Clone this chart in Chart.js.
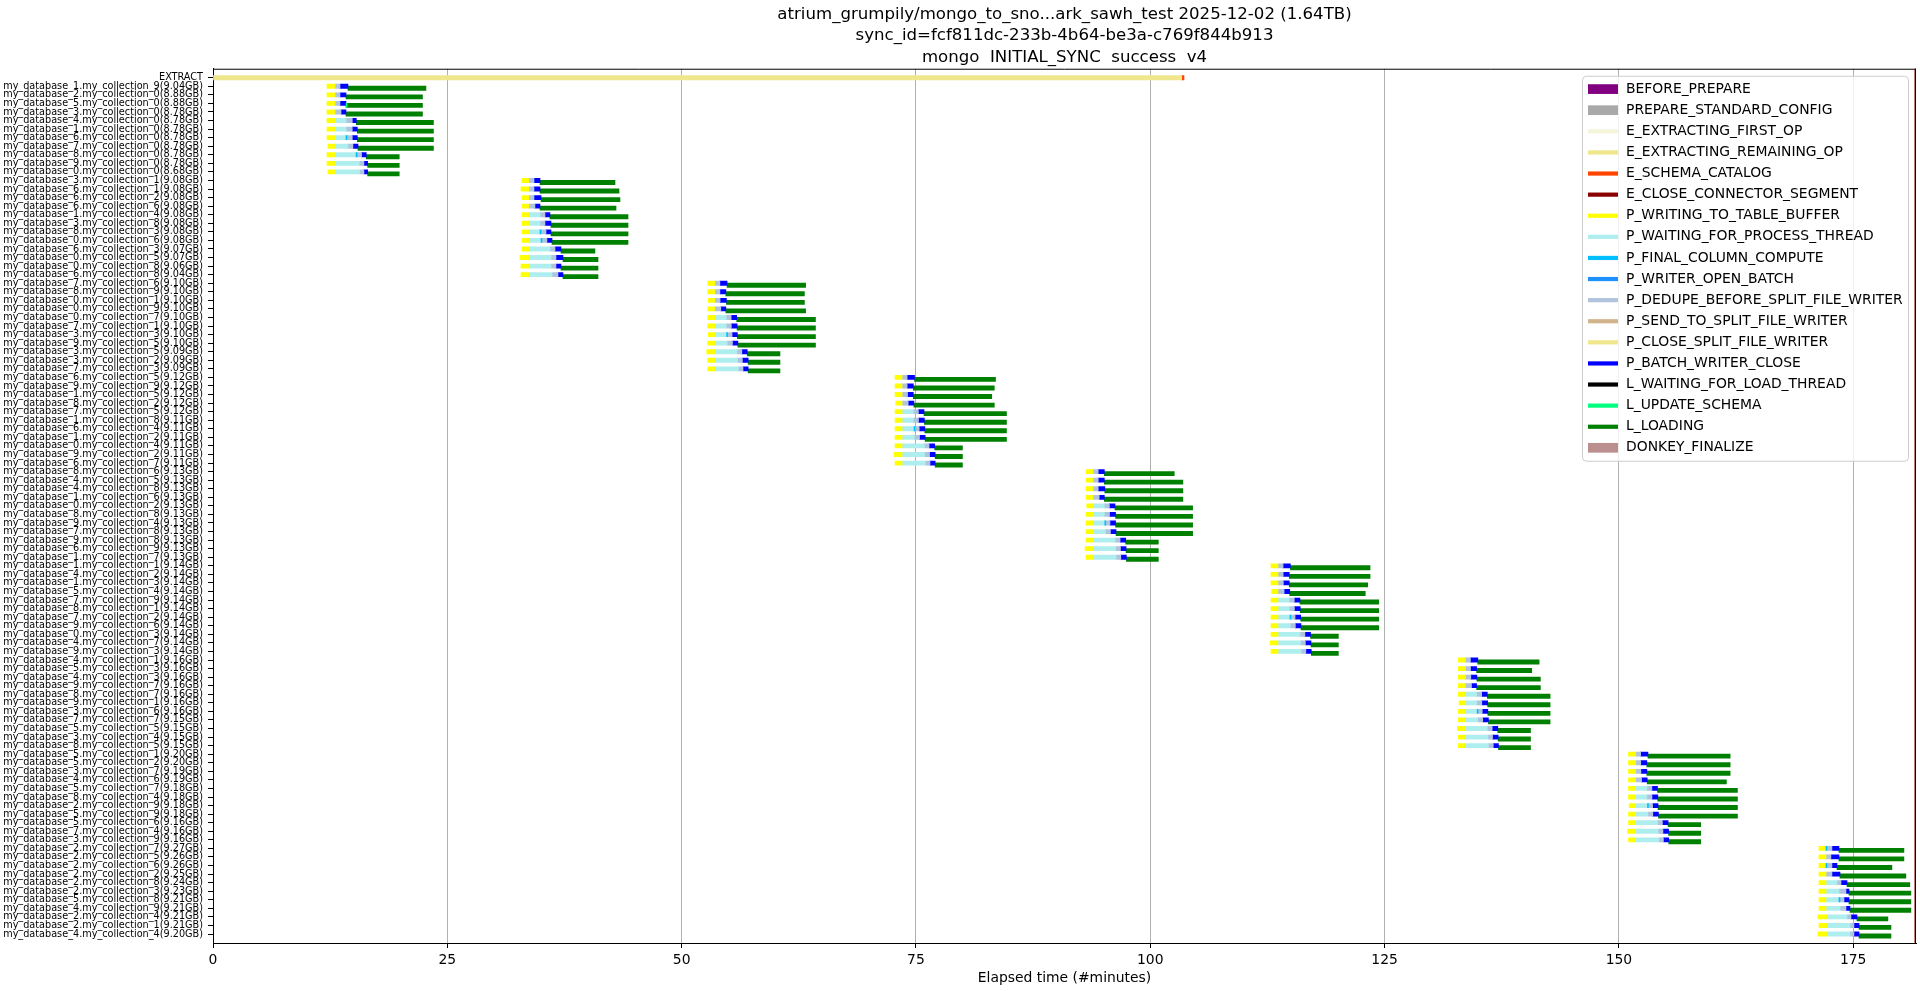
<!DOCTYPE html>
<html>
<head>
<meta charset="utf-8">
<script src="https://cdn.jsdelivr.net/npm/chart.js@4.4.1/dist/chart.umd.min.js"></script>
<style>
  html, body { margin: 0; padding: 0; background: #fff; }
  canvas { display: block; }
</style>
</head>
<body>
<canvas id="chart" width="1920" height="991" style="width:1920px;height:991px"></canvas>
<script>
// ---- data ----
const titleLines = [
  'atrium_grumpily/mongo_to_sno...ark_sawh_test 2025-12-02 (1.64TB)',
  'sync_id=fcf811dc-233b-4b64-be3a-c769f844b913',
  'mongo  INITIAL_SYNC  success  v4'
];

const rowLabels = [
  'EXTRACT',
  'my_database_1.my_collection_9(9.04GB)', 'my_database_2.my_collection_0(8.88GB)', 'my_database_5.my_collection_0(8.88GB)',
  'my_database_3.my_collection_0(8.78GB)', 'my_database_4.my_collection_0(8.78GB)', 'my_database_1.my_collection_0(8.78GB)',
  'my_database_6.my_collection_0(8.78GB)', 'my_database_7.my_collection_0(8.78GB)', 'my_database_8.my_collection_0(8.78GB)',
  'my_database_9.my_collection_0(8.78GB)', 'my_database_0.my_collection_0(8.68GB)',
  'my_database_3.my_collection_1(9.08GB)', 'my_database_6.my_collection_1(9.08GB)', 'my_database_6.my_collection_2(9.08GB)',
  'my_database_6.my_collection_6(9.08GB)', 'my_database_1.my_collection_4(9.08GB)', 'my_database_3.my_collection_8(9.08GB)',
  'my_database_8.my_collection_3(9.08GB)', 'my_database_0.my_collection_6(9.08GB)', 'my_database_6.my_collection_3(9.07GB)',
  'my_database_0.my_collection_5(9.07GB)', 'my_database_0.my_collection_8(9.06GB)', 'my_database_6.my_collection_8(9.04GB)',
  'my_database_7.my_collection_6(9.10GB)', 'my_database_8.my_collection_9(9.10GB)', 'my_database_0.my_collection_1(9.10GB)',
  'my_database_0.my_collection_9(9.10GB)', 'my_database_0.my_collection_7(9.10GB)', 'my_database_7.my_collection_1(9.10GB)',
  'my_database_3.my_collection_3(9.10GB)', 'my_database_9.my_collection_5(9.10GB)', 'my_database_3.my_collection_5(9.09GB)',
  'my_database_3.my_collection_2(9.09GB)', 'my_database_7.my_collection_3(9.09GB)',
  'my_database_6.my_collection_5(9.12GB)', 'my_database_9.my_collection_9(9.12GB)', 'my_database_1.my_collection_5(9.12GB)',
  'my_database_8.my_collection_2(9.12GB)', 'my_database_7.my_collection_5(9.12GB)', 'my_database_1.my_collection_8(9.11GB)',
  'my_database_6.my_collection_4(9.11GB)', 'my_database_1.my_collection_2(9.11GB)', 'my_database_0.my_collection_4(9.11GB)',
  'my_database_9.my_collection_2(9.11GB)', 'my_database_6.my_collection_7(9.11GB)',
  'my_database_8.my_collection_6(9.13GB)', 'my_database_4.my_collection_5(9.13GB)', 'my_database_4.my_collection_8(9.13GB)',
  'my_database_1.my_collection_6(9.13GB)', 'my_database_0.my_collection_2(9.13GB)', 'my_database_8.my_collection_8(9.13GB)',
  'my_database_9.my_collection_4(9.13GB)', 'my_database_7.my_collection_8(9.13GB)', 'my_database_9.my_collection_8(9.13GB)',
  'my_database_6.my_collection_9(9.13GB)', 'my_database_1.my_collection_7(9.13GB)',
  'my_database_1.my_collection_1(9.14GB)', 'my_database_4.my_collection_2(9.14GB)', 'my_database_1.my_collection_3(9.14GB)',
  'my_database_5.my_collection_4(9.14GB)', 'my_database_7.my_collection_9(9.14GB)', 'my_database_8.my_collection_1(9.14GB)',
  'my_database_7.my_collection_2(9.14GB)', 'my_database_9.my_collection_6(9.14GB)', 'my_database_0.my_collection_3(9.14GB)',
  'my_database_4.my_collection_7(9.14GB)', 'my_database_9.my_collection_3(9.14GB)',
  'my_database_4.my_collection_1(9.16GB)', 'my_database_5.my_collection_3(9.16GB)', 'my_database_4.my_collection_3(9.16GB)',
  'my_database_9.my_collection_7(9.16GB)', 'my_database_8.my_collection_7(9.16GB)', 'my_database_9.my_collection_1(9.16GB)',
  'my_database_3.my_collection_6(9.16GB)', 'my_database_7.my_collection_7(9.15GB)', 'my_database_5.my_collection_5(9.15GB)',
  'my_database_3.my_collection_4(9.15GB)', 'my_database_8.my_collection_5(9.15GB)',
  'my_database_5.my_collection_1(9.20GB)', 'my_database_5.my_collection_2(9.20GB)', 'my_database_3.my_collection_7(9.19GB)',
  'my_database_4.my_collection_6(9.19GB)', 'my_database_5.my_collection_7(9.18GB)', 'my_database_8.my_collection_4(9.18GB)',
  'my_database_2.my_collection_9(9.18GB)', 'my_database_5.my_collection_9(9.18GB)', 'my_database_5.my_collection_6(9.16GB)',
  'my_database_7.my_collection_4(9.16GB)', 'my_database_3.my_collection_9(9.16GB)',
  'my_database_2.my_collection_7(9.27GB)', 'my_database_2.my_collection_5(9.26GB)', 'my_database_2.my_collection_6(9.26GB)',
  'my_database_2.my_collection_2(9.25GB)', 'my_database_2.my_collection_8(9.24GB)', 'my_database_2.my_collection_3(9.23GB)',
  'my_database_5.my_collection_8(9.21GB)', 'my_database_4.my_collection_9(9.21GB)', 'my_database_2.my_collection_4(9.21GB)',
  'my_database_2.my_collection_1(9.21GB)', 'my_database_4.my_collection_4(9.20GB)'
];

// EXTRACT row (minutes)
const extractRemaining = [0, 103.35];
const extractSchema = [103.35, 103.6];

// per table row (rows 1..100), stage boundaries in minutes; one line per batch
const tStart = [
  12.16, 12.16, 12.16, 12.16, 12.16, 12.16, 12.16, 12.27, 12.16, 12.16, 12.27,
  32.97, 32.86, 32.97, 32.97, 32.97, 32.97, 32.97, 32.97, 32.97, 32.75, 32.86, 32.86,
  52.79, 52.79, 52.85, 52.79, 52.79, 52.79, 52.85, 52.79, 52.68, 52.79, 52.79,
  72.77, 72.77, 72.77, 72.85, 72.77, 72.77, 72.77, 72.77, 72.77, 72.66, 72.77,
  93.15, 93.15, 93.15, 93.15, 93.22, 93.15, 93.15, 93.15, 93.15, 93.05, 93.15,
  112.88, 112.88, 112.88, 112.95, 112.88, 112.88, 112.88, 112.88, 112.88, 112.78, 112.88,
  132.87, 132.87, 132.87, 132.87, 132.87, 132.95, 132.87, 132.87, 132.76, 132.87, 132.87,
  151.03, 151.03, 151.03, 151.03, 151.03, 151.03, 151.10, 151.03, 151.03, 150.93, 151.03,
  171.35, 171.35, 171.35, 171.35, 171.35, 171.35, 171.35, 171.35, 171.24, 171.35, 171.24
];
const tWrite = [
  13.02, 13.02, 13.02, 13.02, 13.02, 13.02, 13.02, 13.02, 13.02, 13.02, 13.02,
  33.71, 33.71, 33.71, 33.71, 33.71, 33.71, 33.71, 33.71, 33.71, 33.71, 33.71, 33.71,
  53.54, 53.54, 53.54, 53.54, 53.54, 53.54, 53.54, 53.54, 53.54, 53.54, 53.54,
  73.52, 73.52, 73.52, 73.52, 73.52, 73.52, 73.52, 73.52, 73.52, 73.52, 73.52,
  93.90, 93.90, 93.90, 93.90, 93.90, 93.90, 93.90, 93.90, 93.90, 93.90, 93.90,
  113.63, 113.63, 113.63, 113.63, 113.63, 113.63, 113.63, 113.63, 113.63, 113.63, 113.63,
  133.62, 133.62, 133.62, 133.62, 133.62, 133.62, 133.62, 133.62, 133.62, 133.62, 133.62,
  151.78, 151.78, 151.78, 151.78, 151.78, 151.78, 151.78, 151.78, 151.78, 151.78, 151.78,
  172.10, 172.10, 172.10, 172.10, 172.10, 172.10, 172.10, 172.10, 172.20, 172.20, 172.20
];
const tWait = [
  13.02, 13.02, 13.02, 13.02, 14.19, 14.19, 14.19, 14.40, 15.26, 15.60, 15.65,
  33.71, 33.71, 33.71, 33.71, 34.89, 34.89, 34.89, 35.00, 35.95, 36.06, 36.06, 36.17,
  53.54, 53.54, 53.54, 53.54, 54.75, 54.75, 54.80, 54.86, 55.90, 55.95, 56.05,
  73.52, 73.52, 73.52, 73.52, 74.72, 74.72, 74.80, 74.83, 75.90, 75.92, 76.00,
  93.90, 93.90, 93.90, 93.90, 95.10, 95.10, 95.15, 95.20, 96.25, 96.30, 96.35,
  113.63, 113.63, 113.63, 113.63, 114.83, 114.83, 114.90, 114.94, 115.98, 116.03, 116.10,
  133.62, 133.62, 133.62, 133.62, 134.82, 134.82, 134.88, 134.93, 135.95, 136.02, 136.08,
  151.78, 151.78, 151.78, 151.78, 152.98, 152.98, 153.05, 153.09, 154.12, 154.18, 154.25,
  172.10, 172.10, 172.10, 172.10, 173.27, 173.48, 173.48, 173.59, 174.34, 174.66, 174.66
];
const tDedupe = [
  13.55, 13.55, 13.55, 13.66, 14.86, 14.86, 14.86, 14.93, 15.85, 16.10, 16.10,
  34.25, 34.25, 34.25, 34.35, 35.42, 35.42, 35.53, 35.63, 36.49, 36.59, 36.59, 36.81,
  54.08, 54.08, 54.10, 54.18, 55.28, 55.30, 55.38, 55.42, 56.42, 56.48, 56.55,
  74.06, 74.06, 74.10, 74.17, 75.26, 75.27, 75.35, 75.38, 76.40, 76.45, 76.50,
  94.44, 94.45, 94.45, 94.55, 95.64, 95.65, 95.70, 95.75, 96.78, 96.82, 96.86,
  114.17, 114.18, 114.20, 114.28, 115.37, 115.38, 115.45, 115.48, 116.50, 116.55, 116.60,
  134.16, 134.17, 134.20, 134.27, 135.36, 135.37, 135.42, 135.47, 136.48, 136.52, 136.60,
  152.32, 152.33, 152.35, 152.42, 153.52, 153.53, 153.60, 153.62, 154.64, 154.70, 154.75,
  172.73, 172.62, 172.73, 172.73, 173.70, 174.23, 174.02, 174.23, 174.76, 175.08, 175.08
];
const tClose = [
  14.40, 14.19, 14.19, 14.19, 15.29, 15.40, 15.40, 15.47, 16.35, 16.50, 16.50,
  34.89, 34.89, 35.00, 34.89, 35.95, 36.06, 36.06, 36.17, 37.13, 37.34, 37.13, 37.34,
  54.85, 54.72, 54.78, 54.72, 55.88, 55.92, 55.95, 56.00, 57.00, 57.10, 57.10,
  74.85, 74.72, 74.72, 74.78, 75.86, 75.90, 75.95, 75.98, 77.00, 77.05, 77.05,
  95.10, 95.10, 95.15, 95.10, 96.24, 96.30, 96.30, 96.35, 97.38, 97.42, 97.45,
  114.95, 114.83, 114.83, 114.88, 115.97, 116.00, 116.05, 116.08, 117.10, 117.15, 117.18,
  134.95, 134.82, 134.85, 134.82, 135.96, 136.00, 136.02, 136.08, 137.08, 137.12, 137.15,
  153.10, 152.98, 152.98, 153.02, 154.12, 154.15, 154.18, 154.22, 155.25, 155.30, 155.32,
  173.48, 173.48, 173.27, 173.59, 174.34, 174.55, 174.55, 174.66, 175.40, 175.62, 175.62
];
const tLoad = [
  22.72, 22.35, 22.35, 22.35, 23.52, 23.52, 23.52, 23.52, 19.87, 19.87, 19.87,
  42.89, 43.32, 43.42, 43.00, 44.28, 44.28, 44.28, 44.28, 40.75, 41.08, 41.08, 41.08,
  63.23, 63.10, 63.10, 63.23, 64.28, 64.28, 64.28, 64.28, 60.49, 60.49, 60.49,
  83.49, 83.36, 83.09, 83.36, 84.66, 84.66, 84.66, 84.66, 79.96, 79.96, 79.96,
  102.56, 103.48, 103.48, 103.48, 104.52, 104.52, 104.52, 104.52, 100.86, 100.86, 100.86,
  123.45, 123.45, 123.20, 122.94, 124.38, 124.38, 124.38, 124.38, 120.07, 120.07, 120.07,
  141.49, 140.70, 141.62, 141.62, 142.66, 142.66, 142.66, 142.66, 140.57, 140.57, 140.57,
  161.87, 161.87, 161.87, 161.47, 162.65, 162.65, 162.65, 162.65, 158.73, 158.73, 158.73,
  180.41, 180.41, 179.13, 180.62, 181.04, 181.15, 181.15, 181.15, 178.70, 179.03, 179.03
];

// short stages seen only on a few rows: [row, from, to]
const finalCompute = [
  [7, 14.19, 14.30], [9, 15.26, 15.37], [18, 34.89, 35.00], [19, 35.00, 35.10],
  [30, 54.80, 54.90], [41, 74.80, 74.90], [52, 95.15, 95.25], [63, 114.90, 115.00],
  [74, 134.88, 134.98], [85, 153.05, 153.15], [90, 172.10, 172.20], [92, 172.10, 172.20],
  [96, 173.48, 173.59]
];
const updateSchema = [[3, 14.19, 14.30]];

const syncEnd = 181.62;
const xMax = 181.7;
const xTicks = [0, 25, 50, 75, 100, 125, 150, 175];

const stageNames = [
  'BEFORE_PREPARE', 'PREPARE_STANDARD_CONFIG', 'E_EXTRACTING_FIRST_OP', 'E_EXTRACTING_REMAINING_OP',
  'E_SCHEMA_CATALOG', 'E_CLOSE_CONNECTOR_SEGMENT', 'P_WRITING_TO_TABLE_BUFFER', 'P_WAITING_FOR_PROCESS_THREAD',
  'P_FINAL_COLUMN_COMPUTE', 'P_WRITER_OPEN_BATCH', 'P_DEDUPE_BEFORE_SPLIT_FILE_WRITER', 'P_SEND_TO_SPLIT_FILE_WRITER',
  'P_CLOSE_SPLIT_FILE_WRITER', 'P_BATCH_WRITER_CLOSE', 'L_WAITING_FOR_LOAD_THREAD', 'L_UPDATE_SCHEMA',
  'L_LOADING', 'DONKEY_FINALIZE'
];
const stageColors = [
  '#800080', '#a9a9a9', '#f5f5dc', '#f0e68c',
  '#ff4500', '#8b0000', '#ffff00', '#afeeee',
  '#00bfff', '#1e90ff', '#b0c4de', '#d2b48c',
  '#f0e68c', '#0000ff', '#000000', '#00ff7f',
  '#008000', '#bc8f8f'
];
const stagePatch = ['BEFORE_PREPARE', 'PREPARE_STANDARD_CONFIG', 'DONKEY_FINALIZE'];

// ---- build bars ----
const LOAD_SHIFT = 0.23; // load stages sit a little lower in their row

function span(from, to, dy) {
  const out = [];
  for (let i = 0; i < from.length; i++) {
    if (to[i] > from[i]) out.push({ x: [from[i], to[i]], y: i + 1 + dy });
  }
  return out;
}

const stageData = {
  E_EXTRACTING_REMAINING_OP: [{ x: extractRemaining, y: 0 }],
  E_SCHEMA_CATALOG: [{ x: extractSchema, y: 0 }],
  P_WRITING_TO_TABLE_BUFFER: span(tStart, tWrite, 0),
  P_WAITING_FOR_PROCESS_THREAD: span(tWrite, tWait, 0),
  P_FINAL_COLUMN_COMPUTE: finalCompute.map(([r, a, b]) => ({ x: [a, b], y: r })),
  P_DEDUPE_BEFORE_SPLIT_FILE_WRITER: span(tWait, tDedupe, 0),
  P_BATCH_WRITER_CLOSE: span(tDedupe, tClose, 0),
  L_UPDATE_SCHEMA: updateSchema.map(([r, a, b]) => ({ x: [a, b], y: r + LOAD_SHIFT })),
  L_LOADING: span(tClose, tLoad, LOAD_SHIFT)
};

const datasets = stageNames.map((name, k) => ({
  label: name,
  data: stageData[name] || [],
  backgroundColor: stageColors[k],
  borderWidth: 0,
  barThickness: 4.2,
  grouped: false,
  order: (name === 'P_FINAL_COLUMN_COMPUTE' || name === 'L_UPDATE_SCHEMA') ? 0 : 1
}));

// frame (top/right spines), end marker and the boxed legend
const framePlugin = {
  id: 'frame',
  afterDraw(chart) {
    const { ctx, chartArea: a, scales } = chart;
    ctx.save();
    ctx.strokeStyle = '#8b0000';
    ctx.lineWidth = 1.5;
    const xe = scales.x.getPixelForValue(syncEnd);
    ctx.beginPath();
    ctx.moveTo(xe, a.top);
    ctx.lineTo(xe, a.bottom);
    ctx.stroke();

    ctx.strokeStyle = '#000';
    ctx.lineWidth = 1;
    ctx.beginPath();
    ctx.moveTo(a.left, a.top + 0.5);
    ctx.lineTo(a.right, a.top + 0.5);
    ctx.moveTo(a.right - 0.5, a.top);
    ctx.lineTo(a.right - 0.5, a.bottom);
    ctx.stroke();

    // legend
    const lw = 326, lh = 385;
    const lx = a.right - 8 - lw, ly = a.top + 7;
    ctx.fillStyle = 'rgba(255,255,255,0.8)';
    ctx.strokeStyle = '#cccccc';
    ctx.beginPath();
    ctx.roundRect(lx + 0.5, ly + 0.5, lw, lh, 4);
    ctx.fill();
    ctx.stroke();

    ctx.font = '13.9px "DejaVu Sans"';
    ctx.textBaseline = 'middle';
    ctx.textAlign = 'left';
    chart.data.datasets.forEach((ds, i) => {
      const cy = ly + 13.4 + i * 21.1;
      const hx = lx + 6;
      if (stagePatch.includes(ds.label)) {
        ctx.fillStyle = ds.backgroundColor;
        ctx.fillRect(hx, cy - 4.9, 30, 9.7);
      } else {
        ctx.strokeStyle = ds.backgroundColor;
        ctx.lineWidth = 4.2;
        ctx.beginPath();
        ctx.moveTo(hx, cy);
        ctx.lineTo(hx + 30, cy);
        ctx.stroke();
      }
      ctx.fillStyle = '#000';
      ctx.fillText(ds.label, lx + 44, cy);
    });
    ctx.restore();
  }
};

new Chart(document.getElementById('chart'), {
  type: 'bar',
  data: { datasets },
  plugins: [framePlugin],
  options: {
    indexAxis: 'y',
    responsive: false,
    animation: false,
    devicePixelRatio: 1,
    layout: { padding: { left: 0, right: 4, top: 0, bottom: 0 } },
    plugins: {
      legend: { display: false },
      tooltip: { enabled: false },
      title: {
        display: true,
        fullSize: false,
        text: titleLines,
        color: '#000',
        font: { family: 'DejaVu Sans', size: 16.6, weight: 'normal', lineHeight: 1.3 },
        padding: { top: 3.6, bottom: 0.4 }
      }
    },
    scales: {
      x: {
        type: 'linear',
        min: 0,
        max: xMax,
        afterBuildTicks: s => { s.ticks = xTicks.map(v => ({ value: v })); },
        afterFit: s => { s.height = 48; },
        ticks: {
          color: '#000',
          padding: 4,
          font: { family: 'DejaVu Sans', size: 13.9 },
          callback: v => String(v)
        },
        grid: { color: '#b0b0b0', lineWidth: 1, tickColor: '#000', tickLength: 5 },
        border: { display: true, color: '#000', width: 1 },
        title: {
          display: true,
          text: 'Elapsed time (#minutes)',
          color: '#000',
          font: { family: 'DejaVu Sans', size: 13.9 },
          padding: { top: 0, bottom: 4 }
        }
      },
      y: {
        type: 'linear',
        reverse: true,
        offset: false,
        min: -1.05,
        max: 101.05,
        afterBuildTicks: s => { s.ticks = rowLabels.map((_, i) => ({ value: i })); },
        afterFit: s => { s.width = 213; },
        ticks: {
          autoSkip: false,
          color: '#000',
          padding: 5,
          font: { family: 'DejaVu Sans', size: 9.7 },
          callback: v => rowLabels[v]
        },
        grid: { offset: false, drawOnChartArea: false, tickLength: 5, tickColor: '#000' },
        border: { display: true, color: '#000', width: 1 }
      }
    }
  }
});
</script>
</body>
</html>
